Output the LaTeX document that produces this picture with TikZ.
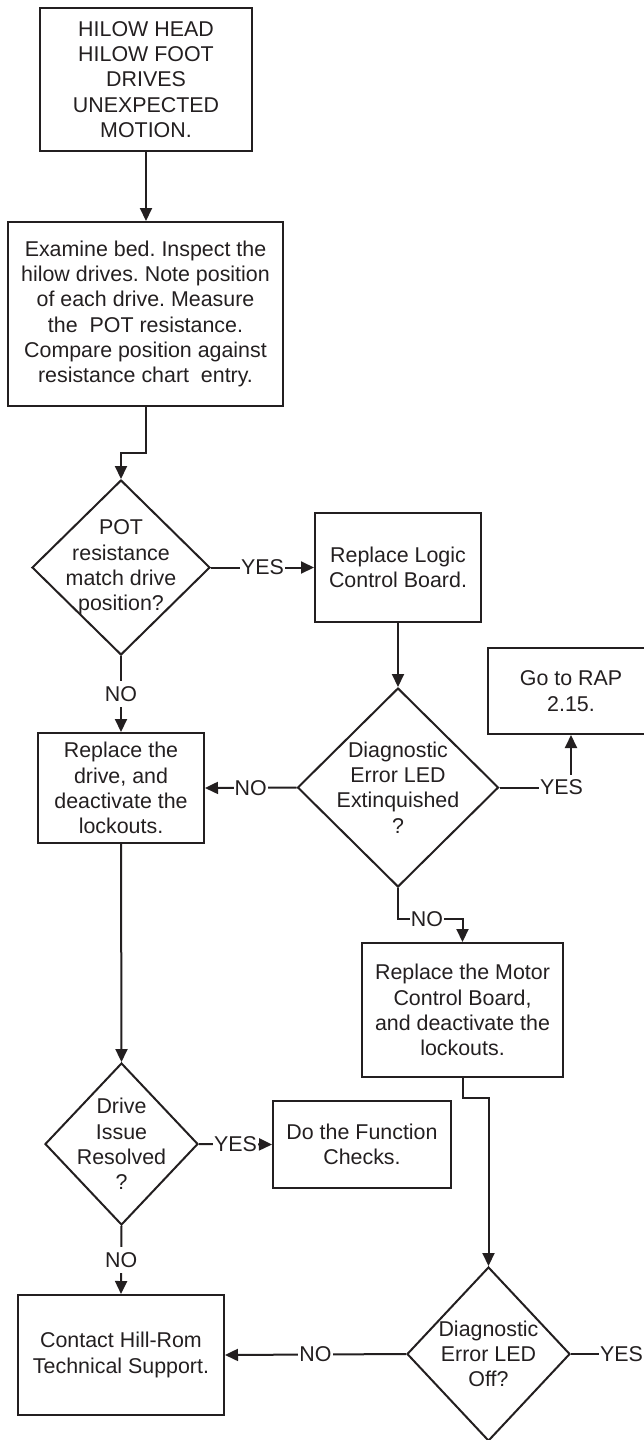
\documentclass[tikz,border=0pt]{standalone}
\usepackage{fontspec}
\setmainfont{Liberation Sans}
\usetikzlibrary{shapes.geometric,arrows.meta}
\definecolor{ink}{RGB}{35,31,32}
\newcommand\fs{\fontsize{21.4}{25.3}\selectfont}
\frenchspacing

\begin{document}
\begin{tikzpicture}[x=1pt,y=-1pt,
  line/.style={draw=ink, line width=2pt},
  arr/.style={line, -{Triangle[length=13pt,width=12pt]}},
  stepbox/.style={draw=ink, line width=2pt, rectangle, inner sep=0pt,
    align=center, font=\fs, text=ink},
  decision/.style={draw=ink, line width=2pt, diamond, inner sep=0pt},
  dtext/.style={align=center, font=\fs, text=ink, inner sep=0pt},
  lbl/.style={fill=white, font=\fs, text=ink, inner xsep=1pt, inner ysep=5pt},
]
\useasboundingbox (0,0) rectangle (644,1440);
\clip (0,0) rectangle (644,1440);

% process boxes
\node[stepbox, minimum width=212pt, minimum height=143pt] (b1) at (146,79.5)
  {HILOW HEAD\\HILOW FOOT\\DRIVES\\UNEXPECTED\\MOTION.};
\node[stepbox, minimum width=275pt, minimum height=184pt] (b2) at (145.5,314)
  {Examine bed. Inspect the\\hilow drives. Note position\\of each drive. Measure\\the~~POT resistance.\\Compare position against\\resistance chart~~entry.};
\node[stepbox, minimum width=166pt, minimum height=109pt] (b3) at (398,567.5)
  {Replace Logic\\Control Board.};
\node[stepbox, minimum width=166pt, minimum height=86pt] (b4) at (571,691)
  {Go to RAP\\2.15.};
\node[stepbox, minimum width=166pt, minimum height=110pt] (b5) at (121,788)
  {Replace the\\drive, and\\deactivate the\\lockouts.};
\node[stepbox, minimum width=201pt, minimum height=134pt] (b8) at (462.5,1010)
  {Replace the Motor\\Control Board,\\and deactivate the\\lockouts.};
\node[stepbox, minimum width=178pt, minimum height=87pt] (b6) at (362,1144.5)
  {Do the Function\\Checks.};
\node[stepbox, minimum width=206pt, minimum height=120pt] (b7) at (121,1355)
  {Contact Hill-Rom\\Technical Support.};

% decisions
\node[decision, minimum width=178pt, minimum height=175pt,
  label={[dtext]center:{POT\\resistance\\match drive\\position?}}] (d1) at (121,567.5) {};
\node[decision, minimum width=201pt, minimum height=199pt,
  label={[dtext]center:{Diagnostic\\Error LED\\Extinquished\\?}}] (d2) at (398,787.5) {};
\node[decision, minimum width=153pt, minimum height=162pt,
  label={[dtext]center:{Drive\\Issue\\Resolved\\?}}] (d3) at (121.5,1144) {};
\node[decision, minimum width=163pt, minimum height=174pt,
  label={[dtext]center:{Diagnostic\\Error LED\\Off?}}] (d4) at (488.5,1354) {};

% free-standing connector labels
\node[lbl] (y2) at (561.5,787.5) {YES};
\node[lbl] (n3) at (427,919) {NO};
\node[lbl] (y4) at (621.5,1354) {YES};

% connectors
\draw[arr] (b1.south) -- (b1.south |- b2.north);
\draw[arr] (b2.south) -- ++(0,46) -| (d1.north);
\draw[arr] (d1.east) -- node[lbl] {YES} (b3.west);
\draw[arr] (b3.south) -- (d2.north);
\draw[line] (d2.east) -- (y2.west);
\draw[arr] (y2.north -| b4.south) -- (b4.south);
\draw[arr] (d2.west) -- node[lbl] {NO} (b5.east);
\draw[arr] (d1.south) -- node[lbl] {NO} (b5.north);
\draw[line] (d2.south) |- (n3.west);
\draw[arr] (n3.east) -| (b8.north);
\draw[arr] (b5.south) -- (d3.north);
\draw[arr] (d3.east) -- node[lbl] {YES} (b6.west);
\draw[arr] (d3.south) -- node[lbl] {NO} (b7.north);
\draw[arr] (b8.south) -- ++(0,20) -| (d4.north);
\draw[arr] (d4.west) -- node[lbl] {NO} (b7.east);
\draw[line] (d4.east) -- (y4.west);
\end{tikzpicture}
\end{document}
